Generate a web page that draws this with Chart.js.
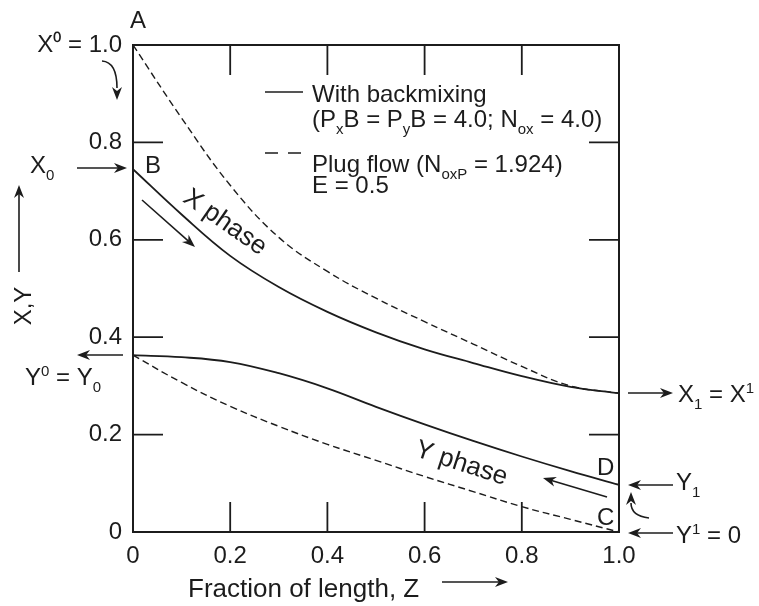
<!DOCTYPE html>
<html>
<head>
<meta charset="utf-8">
<script src="https://cdn.jsdelivr.net/npm/chart.js@4.4.1/dist/chart.umd.min.js"></script>
<style>
  html, body { margin: 0; padding: 0; background: #ffffff; }
  #wrap { width: 759px; height: 606px; }
</style>
</head>
<body>
<div id="wrap"><canvas id="chart" width="759" height="606"></canvas></div>
<script>
// Fraction of length Z and the four concentration profiles
const zValues = [0, 0.1, 0.2, 0.3, 0.4, 0.5, 0.6, 0.7, 0.8, 0.9, 1.0];
const xBackmix = [0.745, 0.652, 0.567, 0.503, 0.452, 0.41, 0.375, 0.347, 0.32, 0.298, 0.285];
const yBackmix = [0.363, 0.359, 0.349, 0.326, 0.295, 0.257, 0.221, 0.187, 0.155, 0.125, 0.097];
const xPlug = [1.0, 0.85, 0.712, 0.605, 0.535, 0.48, 0.432, 0.386, 0.34, 0.3, 0.285];
const yPlug = [0.363, 0.307, 0.258, 0.217, 0.18, 0.147, 0.114, 0.083, 0.052, 0.026, 0.0];

const xTickLabels = ["0", "0.2", "0.4", "0.6", "0.8", "1.0"];
const yTickLabels = ["0", "0.2", "0.4", "0.6", "0.8", "X\u2070 = 1.0"];
const innerTicks = [0.2, 0.4, 0.6, 0.8];

const INK = "#1c1c1c";
const FONT = "'Liberation Sans', Arial, sans-serif";

function toPoints(ys) {
  return zValues.map((z, i) => ({ x: z, y: ys[i] }));
}

function curve(label, ys, dashed) {
  return {
    label: label,
    data: toPoints(ys),
    showLine: true,
    borderColor: INK,
    borderWidth: dashed ? 1.4 : 1.8,
    borderDash: dashed ? [7, 4] : [],
    pointRadius: 0,
    tension: 0.4,
    fill: false
  };
}

// text with sub/superscripts, y is the baseline
function richText(ctx, x, y, parts, size, align) {
  const small = Math.round(size * 0.62);
  let w = 0;
  parts.forEach(p => {
    ctx.font = (p[1] ? small : size) + "px " + FONT;
    w += ctx.measureText(p[0]).width;
  });
  let cx = align === "center" ? x - w / 2 : (align === "right" ? x - w : x);
  ctx.textAlign = "left";
  ctx.textBaseline = "alphabetic";
  parts.forEach(p => {
    ctx.font = (p[1] ? small : size) + "px " + FONT;
    let dy = 0;
    if (p[1] === "sub") dy = size * 0.28;
    if (p[1] === "sup") dy = -size * 0.36;
    ctx.fillText(p[0], cx, y + dy);
    cx += ctx.measureText(p[0]).width;
  });
}

function arrowHead(ctx, x, y, ang) {
  const len = 13, half = 5;
  ctx.save();
  ctx.translate(x, y);
  ctx.rotate(ang);
  ctx.beginPath();
  ctx.moveTo(0, 0);
  ctx.lineTo(-len, -half);
  ctx.lineTo(-len * 0.7, 0);
  ctx.lineTo(-len, half);
  ctx.closePath();
  ctx.fill();
  ctx.restore();
}

function arrow(ctx, x1, y1, x2, y2) {
  const ang = Math.atan2(y2 - y1, x2 - x1);
  ctx.beginPath();
  ctx.moveTo(x1, y1);
  ctx.lineTo(x2 - Math.cos(ang) * 8, y2 - Math.sin(ang) * 8);
  ctx.stroke();
  arrowHead(ctx, x2, y2, ang);
}

// frame + inward tick marks on all four sides
const framePlugin = {
  id: "frame",
  afterDatasetsDraw(chart) {
    const { ctx, chartArea: a, scales } = chart;
    ctx.save();
    ctx.strokeStyle = INK;
    ctx.lineWidth = 2;
    ctx.strokeRect(a.left, a.top, a.right - a.left, a.bottom - a.top);
    ctx.lineWidth = 1.8;
    ctx.beginPath();
    innerTicks.forEach(v => {
      const px = scales.x.getPixelForValue(v);
      const py = scales.y.getPixelForValue(v);
      ctx.moveTo(px, a.bottom); ctx.lineTo(px, a.bottom - 30);
      ctx.moveTo(px, a.top); ctx.lineTo(px, a.top + 30);
      ctx.moveTo(a.left, py); ctx.lineTo(a.left + 30, py);
      ctx.moveTo(a.right, py); ctx.lineTo(a.right - 30, py);
    });
    ctx.stroke();
    ctx.restore();
  }
};

// labels, arrows and the key text
const notesPlugin = {
  id: "notes",
  afterDraw(chart) {
    const ctx = chart.ctx;
    ctx.save();
    ctx.fillStyle = INK;
    ctx.strokeStyle = INK;
    ctx.lineWidth = 1.6;

    // key
    ctx.beginPath();
    ctx.moveTo(265, 92); ctx.lineTo(303, 92);
    ctx.stroke();
    ctx.beginPath();
    ctx.moveTo(265, 153); ctx.lineTo(278, 153);
    ctx.moveTo(288, 153); ctx.lineTo(301, 153);
    ctx.stroke();
    richText(ctx, 312, 102, [["With backmixing"]], 24);
    richText(ctx, 312, 127, [["(P"], ["x", "sub"], ["B = P"], ["y", "sub"], ["B = 4.0; N"], ["ox", "sub"], [" = 4.0)"]], 24);
    richText(ctx, 312, 172, [["Plug flow (N"], ["oxP", "sub"], [" = 1.924)"]], 24);
    richText(ctx, 312, 193, [["E = 0.5"]], 24);

    // point letters
    richText(ctx, 138, 28, [["A"]], 24, "center");
    richText(ctx, 145, 173, [["B"]], 24);
    richText(ctx, 597, 475, [["D"]], 24);
    richText(ctx, 597, 525, [["C"]], 24);

    // left side
    richText(ctx, 30, 173, [["X"], ["0", "sub"]], 24);
    arrow(ctx, 77, 168, 127, 168);
    richText(ctx, 25, 385, [["Y"], ["0", "sup"], [" = Y"], ["0", "sub"]], 24);
    arrow(ctx, 123, 355, 77, 355);
    ctx.beginPath();
    ctx.moveTo(102, 61);
    ctx.quadraticCurveTo(117, 62, 117, 88);
    ctx.stroke();
    arrowHead(ctx, 117, 100, Math.PI / 2);

    // right side
    arrow(ctx, 628, 393, 673, 393);
    richText(ctx, 678, 402, [["X"], ["1", "sub"], [" = X"], ["1", "sup"]], 24);
    arrow(ctx, 673, 485, 628, 485);
    richText(ctx, 676, 490, [["Y"], ["1", "sub"]], 24);
    arrow(ctx, 673, 533, 628, 533);
    richText(ctx, 676, 543, [["Y"], ["1", "sup"], [" = 0"]], 24);
    ctx.beginPath();
    ctx.moveTo(649, 518);
    ctx.quadraticCurveTo(631, 516, 631, 503);
    ctx.stroke();
    arrowHead(ctx, 631, 492, -Math.PI / 2);

    // phase labels and flow arrows
    ctx.save();
    ctx.translate(226, 221);
    ctx.rotate(35 * Math.PI / 180);
    richText(ctx, 0, 9, [["X phase"]], 26, "center");
    ctx.restore();
    arrow(ctx, 142, 200, 195, 247);

    ctx.save();
    ctx.translate(462, 462);
    ctx.rotate(18 * Math.PI / 180);
    richText(ctx, 0, 9, [["Y phase"]], 26, "center");
    ctx.restore();
    arrow(ctx, 607, 497, 543, 478);

    // axis titles
    richText(ctx, 188, 597, [["Fraction of length, Z"]], 26);
    arrow(ctx, 442, 582, 508, 582);
    ctx.save();
    ctx.translate(22, 306);
    ctx.rotate(-Math.PI / 2);
    richText(ctx, 0, 9, [["X,Y"]], 24, "center");
    ctx.restore();
    arrow(ctx, 19, 272, 19, 185);

    ctx.restore();
  }
};

const chart = new Chart(document.getElementById("chart"), {
  type: "scatter",
  data: {
    datasets: [
      curve("X phase, with backmixing", xBackmix, false),
      curve("Y phase, with backmixing", yBackmix, false),
      curve("X phase, plug flow", xPlug, true),
      curve("Y phase, plug flow", yPlug, true)
    ]
  },
  options: {
    responsive: false,
    animation: false,
    layout: { padding: { left: 0, right: 140, top: 45, bottom: 0 } },
    plugins: {
      legend: { display: false },
      tooltip: { enabled: false }
    },
    scales: {
      x: {
        type: "linear",
        min: 0,
        max: 1,
        afterFit: s => { s.height = 74; },
        grid: { display: false, drawTicks: false },
        border: { display: false },
        ticks: {
          stepSize: 0.2,
          padding: 10,
          maxRotation: 0,
          autoSkip: false,
          color: INK,
          font: { family: FONT, size: 24 },
          callback: (v, i) => xTickLabels[i]
        }
      },
      y: {
        type: "linear",
        min: 0,
        max: 1,
        afterFit: s => { s.width = 133; },
        grid: { display: false, drawTicks: false },
        border: { display: false },
        ticks: {
          stepSize: 0.2,
          padding: 11,
          autoSkip: false,
          color: INK,
          font: { family: FONT, size: 24 },
          callback: (v, i) => yTickLabels[i]
        }
      }
    }
  },
  plugins: [framePlugin, notesPlugin]
});
</script>
</body>
</html>
